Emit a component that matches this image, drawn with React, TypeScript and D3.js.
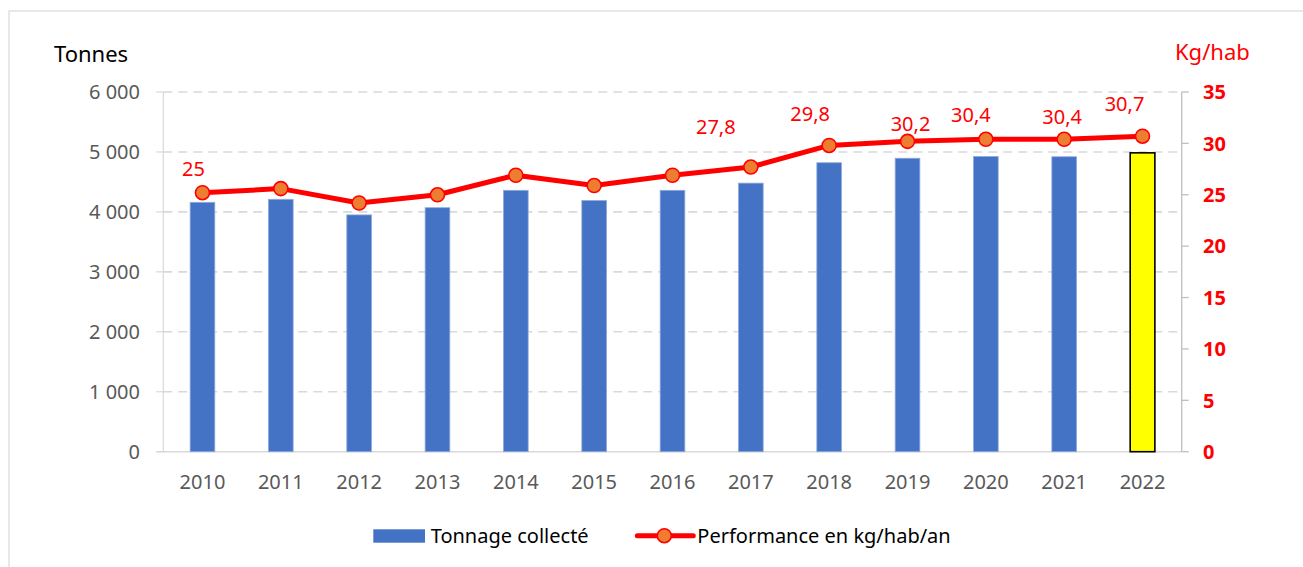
import React from "react";
import * as d3 from "d3";

const years = ["2010","2011","2012","2013","2014","2015","2016","2017","2018","2019","2020","2021","2022"];
const tonnage = [4160, 4210, 3950, 4070, 4360, 4190, 4360, 4480, 4820, 4895, 4925, 4920, 4985];
const performance = [25.2, 25.6, 24.2, 25.0, 26.9, 25.9, 26.9, 27.7, 29.8, 30.2, 30.4, 30.4, 30.7];
const perfLabels = ["25", "", "", "", "", "", "", "27,8", "29,8", "30,2", "30,4", "30,4", "30,7"];
const leftTicks = [0, 1000, 2000, 3000, 4000, 5000, 6000];
const rightTicks = [0, 5, 10, 15, 20, 25, 30, 35];
const highlightYear = "2022";

// label nudges (layout, px) as manually placed in the original
const labelDx = [-9, 0, 0, 0, 0, 0, 0, -35, -19, 3, -15, -2, -18];
const labelDy = [-17, 0, 0, 0, 0, 0, 0, -33, -24, -10, -17, -15, -25];

const W = 1303, H = 567;
const L = 163.3, R = 1181.7, T = 92, B = 451.7;
const FONT = "'Noto Sans', 'Open Sans', sans-serif";

const fmtThousands = (v: number) => {
  const s = String(v);
  return s.replace(/\B(?=(\d{3})+(?!\d))/g, " ");
};

export default function App() {
  const p = 0.685;
  const x = d3.scaleBand<string>().domain(years).range([L, R]).paddingInner(p).paddingOuter(p / 2);
  const yL = d3.scaleLinear().domain([0, 6000]).range([B, T]);
  const yR = d3.scaleLinear().domain([0, 35]).range([B, T]);
  const cx = (yr: string) => (x(yr) as number) + x.bandwidth() / 2;

  const line = d3.line<number>()
    .x((_, i) => cx(years[i]))
    .y((d) => yR(d));

  return (
    <svg width={W} height={H} style={{ position: "absolute", left: 0, top: 0, fontFamily: FONT }}>
      <rect x={0} y={0} width={W} height={H} fill="#fff" />
      <rect x={9} y={11} width={1310} height={600} fill="none" stroke="#d9d9d9" strokeWidth={1.2} />

      {/* gridlines */}
      {leftTicks.filter((t) => t > 0).map((t) => (
        <line key={"g" + t} x1={L} x2={R} y1={yL(t)} y2={yL(t)} stroke="#d9d9d9" strokeWidth={1.6} strokeDasharray="9,6" />
      ))}

      {/* left axis */}
      <line x1={L} x2={L} y1={T} y2={B} stroke="#d9d9d9" strokeWidth={1.2} />
      {leftTicks.map((t) => (
        <g key={"l" + t}>
          <line x1={L - 7} x2={L} y1={yL(t)} y2={yL(t)} stroke="#d9d9d9" strokeWidth={1.2} />
          <text x={140} y={yL(t) + 7.3} textAnchor="end" fontSize={20} fill="#595959">{fmtThousands(t)}</text>
        </g>
      ))}
      <line x1={L - 7} x2={R} y1={B} y2={B} stroke="#d9d9d9" strokeWidth={1.5} />

      {/* bars */}
      {years.map((yr, i) => {
        const hl = yr === highlightYear;
        return (
          <rect key={"b" + yr}
            x={x(yr) as number} y={yL(tonnage[i])}
            width={x.bandwidth()} height={B - yL(tonnage[i])}
            fill={hl ? "#ffff00" : "#4472c4"}
            stroke={hl ? "#000" : "#8faadc"}
            strokeWidth={hl ? 1.6 : 0.8} />
        );
      })}

      {/* right axis */}
      <line x1={R} x2={R} y1={T} y2={B} stroke="#bfbfbf" strokeWidth={1.3} />
      {rightTicks.map((t) => (
        <g key={"r" + t}>
          <line x1={R} x2={R + 7} y1={yR(t)} y2={yR(t)} stroke="#bfbfbf" strokeWidth={1.3} />
          <text x={1203} y={yR(t) + 7.3} fontSize={20} fontWeight="bold" fill="#ff0000">{t}</text>
        </g>
      ))}

      {/* x axis labels */}
      {years.map((yr) => (
        <text key={"x" + yr} x={cx(yr)} y={489.3} textAnchor="middle" fontSize={20} fill="#595959">{yr}</text>
      ))}

      {/* line */}
      <path d={line(performance) || ""} fill="none" stroke="#ff0000" strokeWidth={5} strokeLinejoin="round" />
      {performance.map((v, i) => (
        <circle key={"c" + i} cx={cx(years[i])} cy={yR(v)} r={7} fill="#ed7d31" stroke="#ff0000" strokeWidth={1.6} />
      ))}
      {perfLabels.map((lab, i) => lab ? (
        <text key={"t" + i} x={cx(years[i]) + labelDx[i]} y={yR(performance[i]) + labelDy[i]}
          textAnchor="middle" fontSize={20} fill="#ff0000">{lab}</text>
      ) : null)}

      {/* axis titles */}
      <text x={54} y={62.3} fontSize={22} fill="#000">Tonnes</text>
      <text x={1175} y={60} fontSize={22} fill="#ff0000">Kg/hab</text>

      {/* legend */}
      <rect x={373.3} y={529.3} width={51.7} height={13.4} fill="#4472c4" />
      <text x={430.7} y={542.5} fontSize={20} fill="#000">Tonnage collecté</text>
      <line x1={637.3} x2={693.3} y1={535.7} y2={535.7} stroke="#ff0000" strokeWidth={5} strokeLinecap="round" />
      <circle cx={664.3} cy={535.7} r={7} fill="#ed7d31" stroke="#ff0000" strokeWidth={1.6} />
      <text x={697.3} y={542.5} fontSize={20} fill="#000">Performance en kg/hab/an</text>
    </svg>
  );
}
